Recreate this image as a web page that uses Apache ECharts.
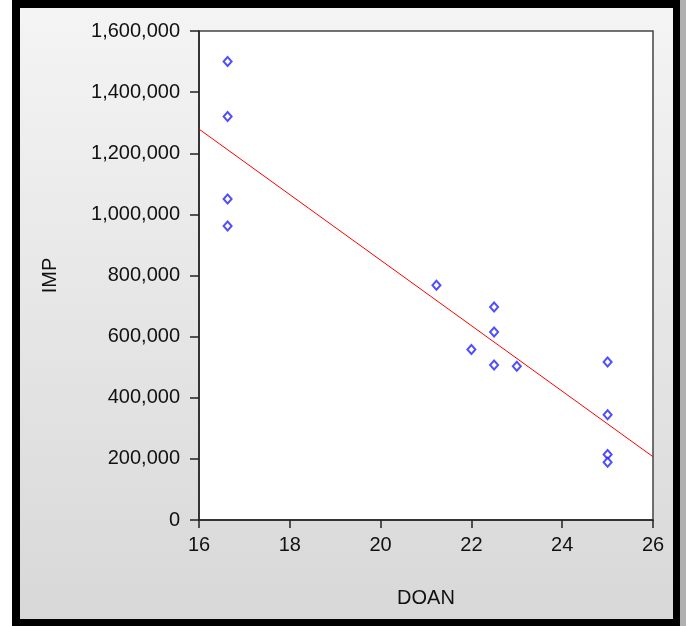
<!DOCTYPE html>
<html>
<head>
<meta charset="utf-8" />
<title>IMP vs DOAN</title>
<script src="https://cdn.jsdelivr.net/npm/echarts@6/dist/echarts.min.js"></script>
<style>
  html, body { margin: 0; padding: 0; background: #fff; }
  #chart { width: 686px; height: 626px; }
</style>
</head>
<body>
<div id="chart"></div>
<script>
// observed points (DOAN, IMP)
var doan = [16.63, 16.63, 16.63, 16.63, 21.23, 22.5, 22.5, 22, 22.5, 23, 25, 25, 25, 25];
var imp = [1500000, 1320000, 1050000, 962000, 768000, 697000, 615000, 558000, 507000, 503000, 517000, 344000, 214000, 189000];

// fitted line, read at both ends of the x axis
var fitX = [16, 26];
var fitY = [1279000, 207000];

var points = [];
for (var i = 0; i < doan.length; i++) {
  points.push([doan[i], imp[i]]);
}
var fitLine = [];
for (var j = 0; j < fitX.length; j++) {
  fitLine.push([fitX[j], fitY[j]]);
}

var textColor = '#111';
var font = 'Liberation Sans';

var chart = echarts.init(document.getElementById('chart'));
var option = {
  animation: false,
  backgroundColor: '#fff',
  graphic: [
    // drop shadow on the right
    { type: 'rect', shape: { x: 680, y: 0, width: 6, height: 626 }, style: { fill: '#b0b0b0' }, z: -10 },
    // black frame
    { type: 'rect', shape: { x: 12, y: 0, width: 668, height: 626 }, style: { fill: '#000' }, z: -9 },
    // gray panel
    {
      type: 'rect',
      shape: { x: 20, y: 8, width: 653, height: 611 },
      style: {
        fill: new echarts.graphic.LinearGradient(0, 0, 0, 1, [
          { offset: 0, color: '#f4f4f4' },
          { offset: 1, color: '#d8d8d8' }
        ])
      },
      z: -8
    }
  ],
  grid: {
    left: 199,
    top: 31,
    right: 33,
    bottom: 106,
    show: true,
    backgroundColor: '#fff',
    borderColor: '#444',
    borderWidth: 1.5
  },
  xAxis: {
    type: 'value',
    min: 16,
    max: 26,
    interval: 2,
    name: 'DOAN',
    nameLocation: 'middle',
    nameGap: 68,
    nameTextStyle: { color: textColor, fontSize: 20, fontFamily: font },
    axisLine: { show: true, lineStyle: { color: '#222', width: 1.5 } },
    axisTick: { show: true, length: 8, lineStyle: { color: '#222', width: 1.5 } },
    axisLabel: { color: textColor, fontSize: 20, fontFamily: font, margin: 15 },
    splitLine: { show: false }
  },
  yAxis: {
    type: 'value',
    min: 0,
    max: 1600000,
    interval: 200000,
    name: 'IMP',
    nameLocation: 'middle',
    nameGap: 139,
    nameRotate: 90,
    nameTextStyle: { color: textColor, fontSize: 20, fontFamily: font },
    axisLine: { show: true, lineStyle: { color: '#222', width: 1.5 } },
    axisTick: { show: true, length: 9, lineStyle: { color: '#222', width: 1.5 } },
    axisLabel: {
      color: textColor,
      fontSize: 20,
      fontFamily: font,
      margin: 19,
      formatter: function (v) { return v.toLocaleString('en-US'); }
    },
    splitLine: { show: false }
  },
  series: [
    {
      name: 'fit',
      type: 'line',
      data: fitLine,
      symbol: 'none',
      lineStyle: { color: '#ff0000', width: 1 },
      z: 2
    },
    {
      name: 'IMP',
      type: 'scatter',
      data: points,
      symbol: 'emptyDiamond',
      symbolSize: [8, 9],
      itemStyle: { color: '#2222ff', borderColor: '#2222ff', borderWidth: 1.5 },
      z: 3
    }
  ]
};
chart.setOption(option);
</script>
</body>
</html>
